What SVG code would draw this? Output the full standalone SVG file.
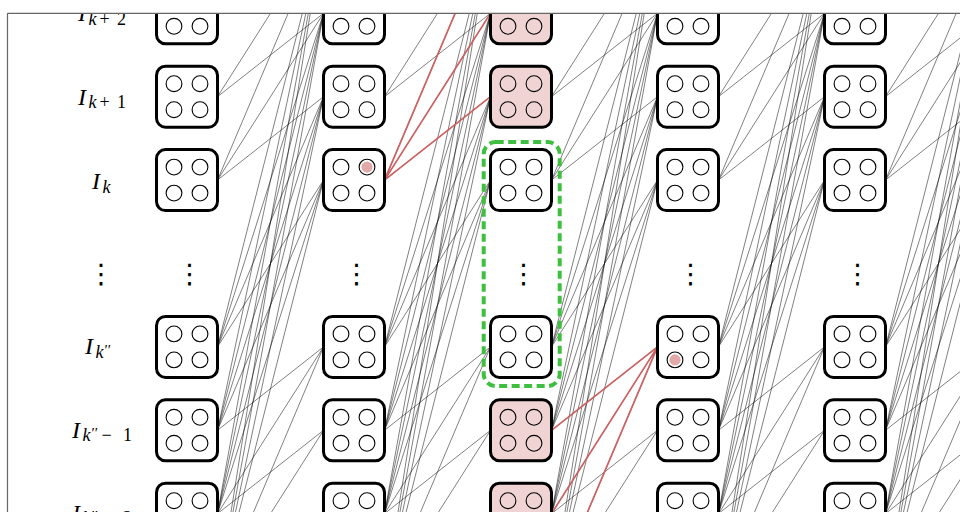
<svg xmlns="http://www.w3.org/2000/svg" xmlns:xlink="http://www.w3.org/1999/xlink" width="960" height="512" viewBox="0 0 960 512">
<style>
.b{fill:#fff;stroke:#000;stroke-width:3}
.pk{fill:#f0d4d4}
.lb{font-family:"Liberation Serif",serif;font-style:italic;font-size:24px;fill:#000}
.s{font-size:18px}
.u{font-style:normal}
.p{font-size:15px;font-style:normal}
.dt{font-family:"DejaVu Sans",sans-serif;font-size:27px;text-anchor:middle;fill:#000}
.red{fill:none;stroke:#cd6262;stroke-width:1.7}
.grn{fill:none;stroke:#3fbf3f;stroke-width:4;stroke-dasharray:8 4.5}
.fr{stroke:#666;stroke-width:1.2}
</style>
<defs>
<clipPath id="clip"><rect x="7.5" y="13.3" width="960" height="520"/></clipPath>
<g id="q" fill="none" stroke="#000" stroke-width="1.1">
<circle cx="-13" cy="-13" r="7.9"/><circle cx="13" cy="-13" r="7.9"/>
<circle cx="-13" cy="13" r="7.9"/><circle cx="13" cy="13" r="7.9"/>
</g>
<path id="gp" fill="none" stroke="#000" stroke-width="0.5" d="M217.5 13.3L323.5 -70.1
M217.5 96.7L323.5 13.3M217.5 96.7L323.5 -70.1
M217.5 180.1L323.5 96.7M217.5 180.1L323.5 13.3M217.5 180.1L323.5 -70.1
M217.5 346.9L323.5 180.1M217.5 346.9L323.5 96.7M217.5 346.9L323.5 13.3M217.5 346.9L323.5 -70.1
M217.5 430.3L323.5 346.9M217.5 430.3L323.5 180.1M217.5 430.3L323.5 96.7M217.5 430.3L323.5 13.3M217.5 430.3L323.5 -70.1
M217.5 513.7L323.5 430.3M217.5 513.7L323.5 346.9M217.5 513.7L323.5 180.1M217.5 513.7L323.5 96.7M217.5 513.7L323.5 13.3M217.5 513.7L323.5 -70.1
M217.5 597.1L323.5 513.7M217.5 597.1L323.5 430.3M217.5 597.1L323.5 346.9M217.5 597.1L323.5 180.1M217.5 597.1L323.5 96.7M217.5 597.1L323.5 13.3M217.5 597.1L323.5 -70.1"/>
</defs>
<rect x="0" y="0" width="960" height="512" fill="#fff"/>
<g clip-path="url(#clip)">
<g id="connectors">
<use href="#gp" x="0"/>
<use href="#gp" x="167"/>
<use href="#gp" x="334"/>
<use href="#gp" x="501"/>
<use href="#gp" x="668"/>
<path class="red" d="M384.5 180.1L490.5 96.7M384.5 180.1L490.5 13.3M384.5 180.1L490.5 -70.1"/>
<path class="red" d="M551.5 430.3L657.5 346.9M551.5 513.7L657.5 346.9M551.5 597.1L657.5 346.9"/>
</g>
<g id="c1-Ik2"><rect class="b" x="156.5" y="-17.2" width="61" height="61" rx="9"/><use href="#q" x="187" y="13.3"/></g>
<g id="c1-Ik1"><rect class="b" x="156.5" y="66.2" width="61" height="61" rx="9"/><use href="#q" x="187" y="96.7"/></g>
<g id="c1-Ik"><rect class="b" x="156.5" y="149.6" width="61" height="61" rx="9"/><use href="#q" x="187" y="180.1"/></g>
<g id="c1-Ikpp"><rect class="b" x="156.5" y="316.4" width="61" height="61" rx="9"/><use href="#q" x="187" y="346.9"/></g>
<g id="c1-Ikpp1"><rect class="b" x="156.5" y="399.8" width="61" height="61" rx="9"/><use href="#q" x="187" y="430.3"/></g>
<g id="c1-Ikpp2"><rect class="b" x="156.5" y="483.2" width="61" height="61" rx="9"/><use href="#q" x="187" y="513.7"/></g>

<g id="c2-Ik2"><rect class="b" x="323.5" y="-17.2" width="61" height="61" rx="9"/><use href="#q" x="354" y="13.3"/></g>
<g id="c2-Ik1"><rect class="b" x="323.5" y="66.2" width="61" height="61" rx="9"/><use href="#q" x="354" y="96.7"/></g>
<g id="c2-Ik"><rect class="b" x="323.5" y="149.6" width="61" height="61" rx="9"/><use href="#q" x="354" y="180.1"/><circle cx="367" cy="167.1" r="5.6" fill="#e2a9a9"/></g>
<g id="c2-Ikpp"><rect class="b" x="323.5" y="316.4" width="61" height="61" rx="9"/><use href="#q" x="354" y="346.9"/></g>
<g id="c2-Ikpp1"><rect class="b" x="323.5" y="399.8" width="61" height="61" rx="9"/><use href="#q" x="354" y="430.3"/></g>
<g id="c2-Ikpp2"><rect class="b" x="323.5" y="483.2" width="61" height="61" rx="9"/><use href="#q" x="354" y="513.7"/></g>

<g id="c3-Ik2"><rect class="b pk" x="490.5" y="-17.2" width="61" height="61" rx="9"/><use href="#q" x="521" y="13.3"/></g>
<g id="c3-Ik1"><rect class="b pk" x="490.5" y="66.2" width="61" height="61" rx="9"/><use href="#q" x="521" y="96.7"/></g>
<g id="c3-Ik"><rect class="b" x="490.5" y="149.6" width="61" height="61" rx="9"/><use href="#q" x="521" y="180.1"/></g>
<g id="c3-Ikpp"><rect class="b" x="490.5" y="316.4" width="61" height="61" rx="9"/><use href="#q" x="521" y="346.9"/></g>
<g id="c3-Ikpp1"><rect class="b pk" x="490.5" y="399.8" width="61" height="61" rx="9"/><use href="#q" x="521" y="430.3"/></g>
<g id="c3-Ikpp2"><rect class="b pk" x="490.5" y="483.2" width="61" height="61" rx="9"/><use href="#q" x="521" y="513.7"/></g>

<g id="c4-Ik2"><rect class="b" x="657.5" y="-17.2" width="61" height="61" rx="9"/><use href="#q" x="688" y="13.3"/></g>
<g id="c4-Ik1"><rect class="b" x="657.5" y="66.2" width="61" height="61" rx="9"/><use href="#q" x="688" y="96.7"/></g>
<g id="c4-Ik"><rect class="b" x="657.5" y="149.6" width="61" height="61" rx="9"/><use href="#q" x="688" y="180.1"/></g>
<g id="c4-Ikpp"><rect class="b" x="657.5" y="316.4" width="61" height="61" rx="9"/><use href="#q" x="688" y="346.9"/><circle cx="675" cy="359.9" r="5.6" fill="#e2a9a9"/></g>
<g id="c4-Ikpp1"><rect class="b" x="657.5" y="399.8" width="61" height="61" rx="9"/><use href="#q" x="688" y="430.3"/></g>
<g id="c4-Ikpp2"><rect class="b" x="657.5" y="483.2" width="61" height="61" rx="9"/><use href="#q" x="688" y="513.7"/></g>

<g id="c5-Ik2"><rect class="b" x="824.5" y="-17.2" width="61" height="61" rx="9"/><use href="#q" x="855" y="13.3"/></g>
<g id="c5-Ik1"><rect class="b" x="824.5" y="66.2" width="61" height="61" rx="9"/><use href="#q" x="855" y="96.7"/></g>
<g id="c5-Ik"><rect class="b" x="824.5" y="149.6" width="61" height="61" rx="9"/><use href="#q" x="855" y="180.1"/></g>
<g id="c5-Ikpp"><rect class="b" x="824.5" y="316.4" width="61" height="61" rx="9"/><use href="#q" x="855" y="346.9"/></g>
<g id="c5-Ikpp1"><rect class="b" x="824.5" y="399.8" width="61" height="61" rx="9"/><use href="#q" x="855" y="430.3"/></g>
<g id="c5-Ikpp2"><rect class="b" x="824.5" y="483.2" width="61" height="61" rx="9"/><use href="#q" x="855" y="513.7"/></g>

<g id="labels">
<text class="lb" y="21.3"><tspan x="78">I</tspan><tspan class="s" x="88.5" dy="3.4">k</tspan><tspan class="s u" x="99.5">+</tspan><tspan class="s u" x="117">2</tspan></text>
<text class="lb" y="104.6"><tspan x="78">I</tspan><tspan class="s" x="88.5" dy="3.4">k</tspan><tspan class="s u" x="99.5">+</tspan><tspan class="s u" x="117">1</tspan></text>
<text class="lb" y="189.3"><tspan x="92">I</tspan><tspan class="s" x="102.5" dy="3.4">k</tspan></text>
<text class="dt" x="101" y="283">⋮</text>
<text class="lb" y="354.3"><tspan x="85">I</tspan><tspan class="s" x="95.5" dy="3.4">k</tspan><tspan class="p" x="104.5" dy="-3">′′</tspan></text>
<text class="lb" y="437.6"><tspan x="72">I</tspan><tspan class="s" x="82.5" dy="3.4">k</tspan><tspan class="p" x="91.5" dy="-3">′′</tspan><tspan class="s u" x="101.5" dy="3">−</tspan><tspan class="s u" x="123">1</tspan></text>
<text class="lb" y="521"><tspan x="72">I</tspan><tspan class="s" x="82.5" dy="3.4">k</tspan><tspan class="p" x="91.5" dy="-3">′′</tspan><tspan class="s u" x="101.5" dy="3">−</tspan><tspan class="s u" x="123">2</tspan></text>
</g>
<g id="vdots">
<text class="dt" x="189.5" y="283">⋮</text>
<text class="dt" x="356.5" y="283">⋮</text>
<text class="dt" x="523.5" y="283">⋮</text>
<text class="dt" x="690.5" y="283">⋮</text>
<text class="dt" x="857.5" y="283">⋮</text>
</g>
<rect id="highlight" class="grn" x="483.7" y="142" width="76" height="244" rx="12"/>
</g>
<g id="frame">
<line class="fr" x1="7.5" y1="13.3" x2="960" y2="13.3"/>
<line class="fr" x1="7.5" y1="13.3" x2="7.5" y2="512"/>
</g>
</svg>
